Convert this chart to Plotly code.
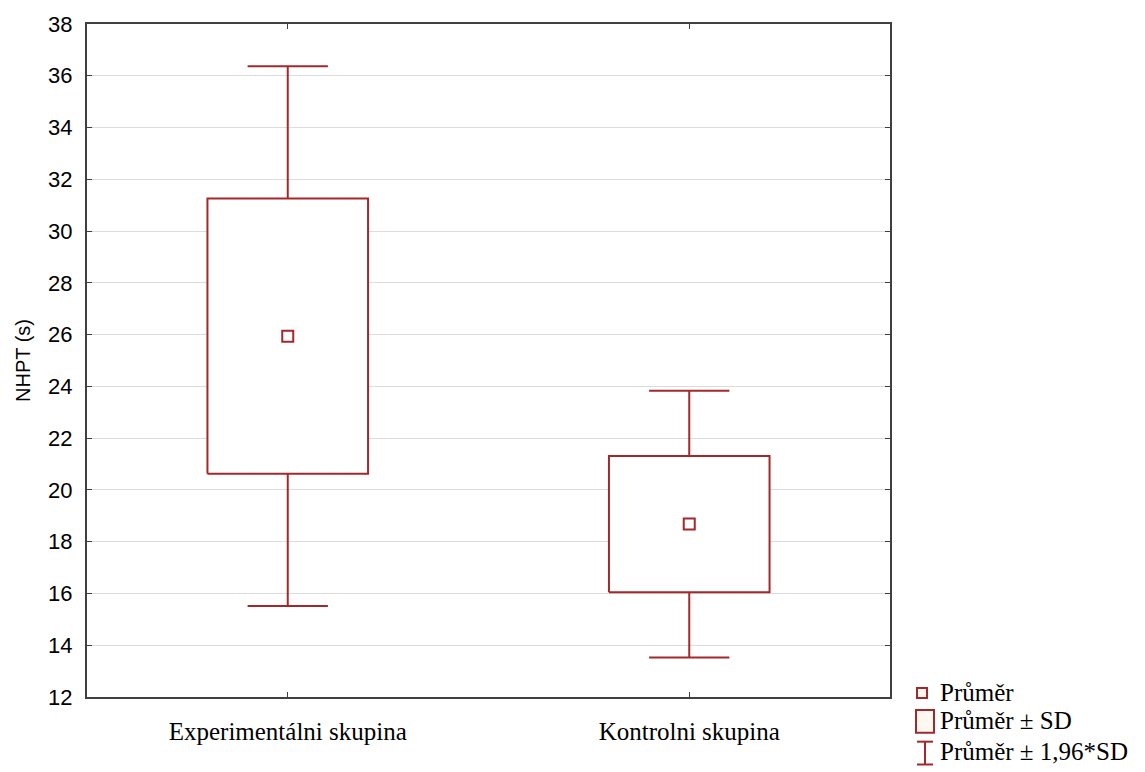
import plotly.graph_objects as go

# Data
categories = ["Experimentálni skupina", "Kontrolni skupina"]
means = [25.94, 18.68]
sd = [5.32, 2.63]
k = 1.96
y_ticks = [12, 14, 16, 18, 20, 22, 24, 26, 28, 30, 32, 34, 36, 38]

RED = "#A3282B"
FRAME = "#404040"
box_hw = 0.2
cap_hw = 0.1

fig = go.Figure()
for i, (m, s) in enumerate(zip(means, sd)):
    lo, hi = m - s, m + s
    wlo, whi = m - k * s, m + k * s
    # whiskers
    fig.add_trace(go.Scatter(
        x=[i, i, None, i - cap_hw, i + cap_hw, None, i, i, None, i - cap_hw, i + cap_hw],
        y=[hi, whi, None, whi, whi, None, lo, wlo, None, wlo, wlo],
        mode="lines", line=dict(color=RED, width=2), showlegend=False, hoverinfo="skip"))
    # box
    fig.add_trace(go.Scatter(
        x=[i - box_hw, i + box_hw, i + box_hw, i - box_hw, i - box_hw],
        y=[lo, lo, hi, hi, lo], mode="lines", fill="toself", fillcolor="white",
        line=dict(color=RED, width=2), showlegend=False, hoverinfo="skip"))

fig.add_trace(go.Scatter(
    x=list(range(len(categories))), y=means, mode="markers",
    marker=dict(symbol="square-open", size=11, color=RED, line=dict(width=2, color=RED)),
    showlegend=False, hoverinfo="skip"))

fig.update_xaxes(
    range=[-0.5, 1.5], tickmode="array", tickvals=list(range(len(categories))),
    ticktext=categories, showgrid=False, zeroline=False,
    showline=True, linecolor=FRAME, linewidth=2, mirror="ticks",
    ticks="inside", ticklen=5, tickcolor=FRAME, ticklabelstandoff=11,
    tickfont=dict(family="Liberation Serif", size=25, color="black"))
fig.update_yaxes(
    range=[12, 38], tickmode="array", tickvals=y_ticks,
    showgrid=True, gridcolor="#DCDCDC", gridwidth=1, zeroline=False,
    showline=True, linecolor=FRAME, linewidth=2, mirror="ticks",
    ticks="inside", ticklen=5, tickcolor=FRAME, ticklabelstandoff=8,
    tickfont=dict(family="Liberation Sans", size=22, color="black"),
    title=dict(text="NHPT (s)", font=dict(family="Liberation Sans", size=20, color="black"), standoff=12))

# Legend (custom), pixel positions converted to paper (plot-area) coords
W, H = 1145, 772
ML, MR, MT, MB = 87, 255, 19, 75
PW, PH = W - ML - MR, H - MT - MB
def px(x):
    return (x - ML) / PW
def py(y):
    return (H - MB - y) / PH

shapes = []
shapes.append(dict(type="rect", xref="paper", yref="paper",
                   x0=px(917), x1=px(927), y0=py(698), y1=py(688),
                   line=dict(color=RED, width=2), fillcolor="#FFF8F0"))
shapes.append(dict(type="rect", xref="paper", yref="paper",
                   x0=px(916), x1=px(934), y0=py(733), y1=py(710),
                   line=dict(color=RED, width=2), fillcolor="#FFF8F0"))
shapes.append(dict(type="line", xref="paper", yref="paper",
                   x0=px(925), x1=px(925), y0=py(742), y1=py(765),
                   line=dict(color=RED, width=2)))
shapes.append(dict(type="line", xref="paper", yref="paper",
                   x0=px(917), x1=px(933), y0=py(742), y1=py(742),
                   line=dict(color=RED, width=2)))
shapes.append(dict(type="line", xref="paper", yref="paper",
                   x0=px(917), x1=px(933), y0=py(765), y1=py(765),
                   line=dict(color=RED, width=2)))

legend_texts = ["Průměr", "Průměr ± SD", "Průměr ± 1,96*SD"]
legend_y = [692, 721, 752]
annotations = []
for t, yy in zip(legend_texts, legend_y):
    annotations.append(dict(text=t, xref="paper", yref="paper", x=px(938), y=py(yy),
                            xanchor="left", yanchor="middle", showarrow=False,
                            font=dict(family="Liberation Serif", size=25, color="black")))

fig.update_layout(
    width=W, height=H, margin=dict(l=ML, r=MR, t=MT, b=MB),
    paper_bgcolor="white", plot_bgcolor="white",
    shapes=shapes, annotations=annotations, showlegend=False)

fig.write_html("out.html")
